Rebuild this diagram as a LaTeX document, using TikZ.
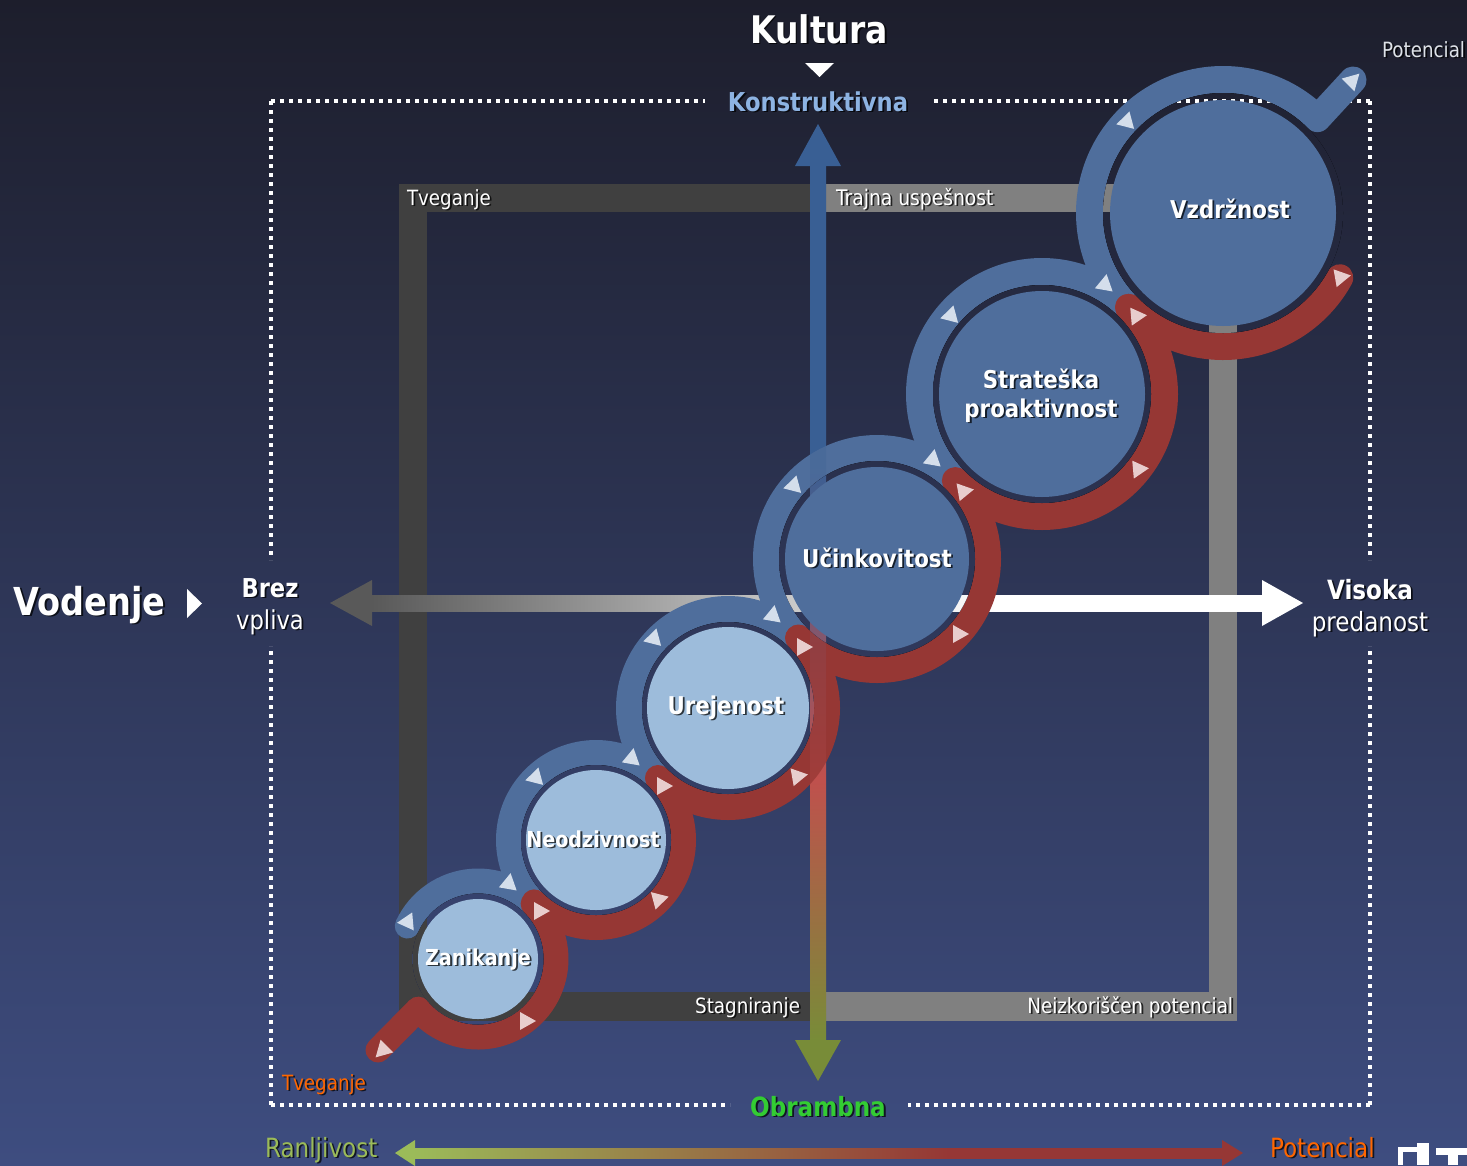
\documentclass[tikz,border=0pt]{standalone}
\usepackage{fontspec}
\setmainfont{DejaVu Sans}[FakeStretch=0.87]
\usetikzlibrary{calc}

\definecolor{bgtop}{RGB}{29,30,44}
\definecolor{bgbot}{RGB}{62,77,128}
\definecolor{bardark}{RGB}{64,64,64}
\definecolor{barlight}{RGB}{128,128,128}
\definecolor{arrblue}{RGB}{57,95,148}
\definecolor{arrred}{RGB}{192,80,77}
\definecolor{arrgreen}{RGB}{120,140,56}
\definecolor{hgray}{RGB}{89,89,89}
\definecolor{ringblue}{RGB}{79,110,156}
\definecolor{ringred}{RGB}{150,55,52}
\definecolor{discdark}{RGB}{79,110,156}
\definecolor{disclight}{RGB}{157,188,219}
\definecolor{tripale}{RGB}{212,222,235}
\definecolor{tripink}{RGB}{232,205,205}
\definecolor{kblue}{RGB}{141,179,226}
\definecolor{ogreen}{RGB}{51,204,51}
\definecolor{orng}{RGB}{255,102,0}
\definecolor{ygreen}{RGB}{155,187,89}
\definecolor{dred}{RGB}{150,55,53}
\definecolor{softwhite}{RGB}{222,226,232}

% gradients of the arrow shafts
\pgfdeclareverticalshading{vshaft}{100bp}{color(0bp)=(arrgreen); color(25bp)=(arrgreen); color(40bp)=(arrred); color(58bp)=(arrblue); color(100bp)=(arrblue)}
\pgfdeclarehorizontalshading{hshaft}{100bp}{color(0bp)=(hgray); color(25bp)=(hgray); color(60bp)=(white); color(100bp)=(white)}
\pgfdeclarehorizontalshading{bshaft}{100bp}{color(0bp)=(ygreen); color(25bp)=(ygreen); color(58bp)=(dred); color(100bp)=(dred)}

\tikzset{
  lab/.style={inner sep=0pt,outer sep=0pt,text=white},
  dotframe/.style={draw=white,line width=4pt,dash pattern=on 4pt off 5pt},
  bandb/.style={draw=ringblue,line width=#1},
  bandr/.style={draw=ringred,line width=#1,line cap=round,line join=round},
}

\newcommand\fsz[1]{\fontsize{#1}{#1}\selectfont}

% everything that lies underneath the circles
\newcommand\basegfx{%
  \fill[top color=bgtop,bottom color=bgbot] (0,0) rectangle (1467,-1165);
  \draw[dotframe] (271,-101) -- (705,-101);
  \draw[dotframe] (1370,-101) -- (932,-101);
  \draw[dotframe] (271,-101) -- (271,-560);
  \draw[dotframe] (271,-1105) -- (271,-646);
  \draw[dotframe] (1370,-101) -- (1370,-560);
  \draw[dotframe] (1370,-1105) -- (1370,-646);
  \draw[dotframe] (271,-1105) -- (730,-1105);
  \draw[dotframe] (1370,-1105) -- (908,-1105);
  \fill[bardark] (399,-184) rectangle (818,-212);
  \fill[bardark] (399,-184) rectangle (427,-1021);
  \fill[bardark] (399,-992) rectangle (818,-1021);
  \fill[barlight] (818,-184) rectangle (1237,-212);
  \fill[barlight] (1209,-184) rectangle (1237,-1021);
  \fill[barlight] (818,-992) rectangle (1237,-1021);
  \shade[shading=hshaft] (372,-595) rectangle (1262,-611);
  \fill[hgray] (330,-603) -- (372,-580) -- (372,-626) -- cycle;
  \fill[white] (1303,-603) -- (1262,-580) -- (1262,-626) -- cycle;
  \shade[shading=vshaft] (810,-165) rectangle (826,-1040);
  \fill[arrblue] (818,-124) -- (795,-166) -- (841,-166) -- cycle;
  \fill[arrgreen] (818,-1081) -- (795,-1040) -- (841,-1040) -- cycle;
}

% small direction marker on a band
\newcommand\mk[4]{\fill[#4,shift={(#1,#2)},rotate=#3] (9,0) -- (-7,9) -- (-7,-9) -- cycle;}

% label with a soft drop shadow
\newcommand\lbl[4][]{%
  \node[lab,#1,text=black,opacity=.72] (#2-sh) at ($(#3)+(1.8,-1.8)$) {#4};
  \node[lab,#1] (#2) at (#3) {#4};}

% disc with a background-coloured gap ring around it
\newcommand\disc[4]{%
  \begin{scope}\clip (#1) circle[radius=#2]; \basegfx\end{scope}
  \fill[#4] (#1) circle[radius=#3];}

\begin{document}
\begin{tikzpicture}[x=1pt,y=1pt]
\useasboundingbox (0,0) rectangle (1467,-1165);
\basegfx

% circle centres
\coordinate (c1) at (478,-959);
\coordinate (c2) at (596,-840);
\coordinate (c3) at (728,-708);
\coordinate (c4) at (877,-559);
\coordinate (c5) at (1042,-394);
\coordinate (c6) at (1223,-213);
\coordinate (tailB) at (1353,-80);
\coordinate (tailR) at (378,-1050);

% blue bands over the upper-left sides
\draw[bandb=25,line cap=round] ($(c1)+(155:78)$) arc[start angle=155,end angle=45,radius=78];
\draw[bandb=25] ($(c2)+(225:87.5)$) arc[start angle=225,end angle=45,radius=87.5];
\draw[bandb=26] ($(c3)+(225:99)$) arc[start angle=225,end angle=45,radius=99];
\draw[bandb=26] ($(c4)+(225:111)$) arc[start angle=225,end angle=45,radius=111];
\draw[bandb=27] ($(c5)+(225:122.5)$) arc[start angle=225,end angle=45,radius=122.5];
\draw[bandb=27,line cap=round,line join=round] ($(c6)+(225:133.5)$) arc[start angle=225,end angle=45,radius=133.5] -- (tailB);

% red bands over the lower-right sides
\draw[bandr=25] (tailR) -- ($(c1)+(220:78)$) arc[start angle=220,end angle=405,radius=78];
\draw[bandr=25] ($(c2)+(225:87.5)$) arc[start angle=225,end angle=405,radius=87.5];
\draw[bandr=26] ($(c3)+(225:99)$) arc[start angle=225,end angle=405,radius=99];
\draw[bandr=26] ($(c4)+(225:111)$) arc[start angle=225,end angle=405,radius=111];
\draw[bandr=27] ($(c5)+(225:122.5)$) arc[start angle=225,end angle=405,radius=122.5];
\draw[bandr=27] ($(c6)+(225:133.5)$) arc[start angle=225,end angle=331,radius=133.5];

% vertical axis faintly showing through the bands
\shade[shading=vshaft,opacity=.25] (810,-165) rectangle (826,-1040);

% discs
\disc{c1}{65.5}{60}{disclight}
\disc{c2}{75}{70}{disclight}
\disc{c3}{86}{81}{disclight}
\disc{c4}{98}{92}{discdark}
\disc{c5}{109}{103}{discdark}
\disc{c6}{120}{113}{discdark}

% markers on the blue bands
\mk{1353}{-80}{45}{tripale}
\mk{1125}{-122}{195}{tripale}
\mk{1105}{-283}{80}{tripale}
\mk{949}{-316}{195}{tripale}
\mk{933}{-458}{80}{tripale}
\mk{792}{-486}{195}{tripale}
\mk{773}{-614}{80}{tripale}
\mk{652}{-639}{195}{tripale}
\mk{632}{-757}{80}{tripale}
\mk{534}{-778}{195}{tripale}
\mk{509}{-882}{80}{tripale}
\mk{406}{-922}{185}{tripale}
% markers on the red bands
\mk{1342}{-277}{10}{tripink}
\mk{1138}{-316}{5}{tripink}
\mk{1140}{-469}{5}{tripink}
\mk{965}{-491}{10}{tripink}
\mk{960}{-634}{0}{tripink}
\mk{804}{-647}{0}{tripink}
\mk{799}{-776}{10}{tripink}
\mk{664}{-786}{0}{tripink}
\mk{660}{-899}{15}{tripink}
\mk{541}{-911}{0}{tripink}
\mk{527}{-1021}{0}{tripink}
\mk{382}{-1051}{225}{tripink}

% disc labels
\lbl[anchor=base,font=\bfseries\fsz{24.5}]{l6}{1230,-218}{Vzdržnost}
\lbl[anchor=base,font=\bfseries\fsz{24.5}]{l5a}{1041,-388}{Strateška}
\lbl[anchor=base,font=\bfseries\fsz{24.5}]{l5b}{1041,-417}{proaktivnost}
\lbl[anchor=base,font=\bfseries\fsz{24.5}]{l4}{877,-567}{Učinkovitost}
\lbl[anchor=base,font=\bfseries\fsz{24.5}]{l3}{726,-714}{Urejenost}
\lbl[anchor=base,font=\bfseries\fsz{22}]{l2}{593,-847}{Neodzivnost}
\lbl[anchor=base,font=\bfseries\fsz{22}]{l1}{478,-965}{Zanikanje}

% axis titles
\lbl[anchor=base,font=\bfseries\fsz{38}]{kultura}{819,-43}{Kultura}
\fill[white] (805,-63) -- (834,-63) -- (819.5,-77) -- cycle;
\lbl[anchor=base,font=\bfseries\fsz{26},text=kblue]{konstr}{818,-111}{Konstruktivna}
\lbl[anchor=base,font=\bfseries\fsz{26.5},text=ogreen]{obramb}{818,-1116}{Obrambna}
\lbl[anchor=base,font=\bfseries\fsz{38.5}]{vodenje}{89.5,-615}{Vodenje}
\fill[white] (187,-589) -- (187,-618) -- (202,-603.5) -- cycle;
\lbl[anchor=base,font=\bfseries\fsz{26}]{brez}{270,-597}{Brez}
\lbl[anchor=base,font=\fsz{26}]{vpliva}{270,-629}{vpliva}
\lbl[anchor=base,font=\bfseries\fsz{26.5}]{visoka}{1370,-599}{Visoka}
\lbl[anchor=base,font=\fsz{26.5}]{predan}{1370,-631}{predanost}

% quadrant labels
\lbl[anchor=base west,font=\fsz{21}]{tvtop}{407,-205}{Tveganje}
\lbl[anchor=base west,font=\fsz{21.5}]{trajna}{836,-205}{Trajna uspešnost}
\lbl[anchor=base east,font=\fsz{21}]{stagn}{800,-1013}{Stagniranje}
\lbl[anchor=base east,font=\fsz{21}]{neizk}{1233,-1013}{Neizkoriščen potencial}
\lbl[anchor=base west,font=\fsz{21},text=orng]{tvbot}{282,-1090}{Tveganje}
\lbl[anchor=base east,font=\fsz{21},text=softwhite]{pottop}{1465,-57}{Potencial}

% bottom scale
\shade[shading=bshaft] (413,-1148) rectangle (1224,-1158);
\fill[ygreen] (395,-1153) -- (415,-1140) -- (415,-1166) -- cycle;
\fill[dred] (1243,-1153) -- (1222,-1140) -- (1222,-1166) -- cycle;
\lbl[anchor=base west,font=\fsz{26.5},text=ygreen]{ranlj}{265,-1157}{Ranljivost}
\lbl[anchor=base west,font=\fsz{26.5},text=orng]{potbot}{1270,-1157}{Potencial}

% corner mark
\fill[white] (1398,-1147) rectangle (1403,-1165);
\fill[white] (1398,-1147) rectangle (1420,-1152);
\fill[white] (1417,-1143) rectangle (1429,-1165);
\fill[white] (1436,-1148) rectangle (1467,-1155);
\fill[white] (1448,-1155) rectangle (1458,-1165);
\end{tikzpicture}
\end{document}
